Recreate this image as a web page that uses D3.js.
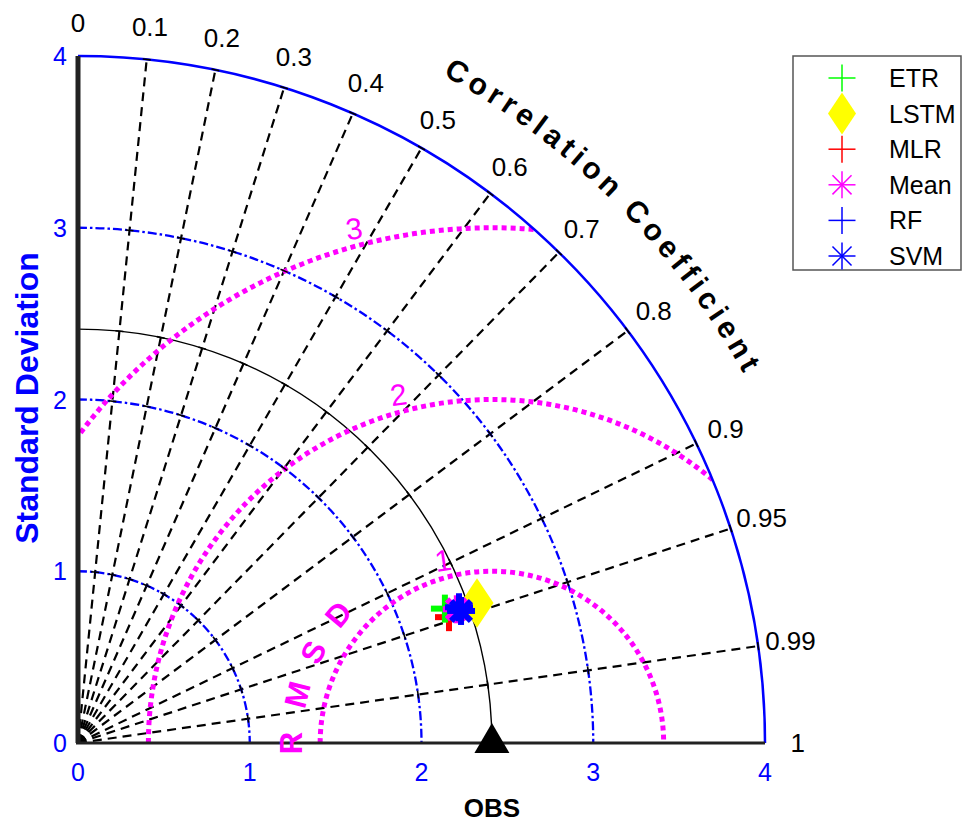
<!DOCTYPE html>
<html>
<head>
<meta charset="utf-8">
<script src="https://cdn.jsdelivr.net/npm/d3@7"></script>
<style>
  body { margin: 0; background: #fff; }
  svg { display: block; font-family: Arial, "Liberation Sans", sans-serif; }
</style>
</head>
<body>
<svg id="chart" width="963" height="822"></svg>
<script>
// model results (std dev, correlation)
const models = ['ETR', 'LSTM', 'MLR', 'Mean', 'RF', 'SVM']
const stdDev = [2.275, 2.462, 2.281, 2.339, 2.355, 2.359]
const corrCoef = [0.939, 0.9436, 0.947, 0.943, 0.942, 0.9454]
const colors = ['#00ff00', '#ffff00', '#ff0000', '#ff00ff', '#0000ff', '#0000ff']
const shapes = ['plus', 'diamond', 'plus', 'asterisk', 'plus', 'asterisk']
const drawOrder = ['LSTM', 'MLR', 'ETR', 'Mean', 'RF', 'SVM']

const obsStd = 2.41
const stdTicks = [0, 1, 2, 3, 4]
const stdArcs = [1, 2, 3]
const corrTicks = [0, 0.1, 0.2, 0.3, 0.4, 0.5, 0.6, 0.7, 0.8, 0.9, 0.95, 0.99, 1]
const corrLines = [0.1, 0.2, 0.3, 0.4, 0.5, 0.6, 0.7, 0.8, 0.9, 0.95, 0.99]
const rmsdLevels = [1, 2, 3]
const rmsdLetters = ['R', 'M', 'S', 'D']

const svg = d3.select('#chart')
const cx = 78, cy = 743
const maxStd = 4
const r = d3.scaleLinear().domain([0, maxStd]).range([0, 687])
const R = r(maxStd)

// polar (std, corr) -> screen
const px = (s, c) => cx + r(s) * c
const py = (s, c) => cy - r(s) * Math.sqrt(1 - c * c)

function quarterArc(rad) {
    const p = d3.path()
    p.arc(cx, cy, rad, -Math.PI / 2, 0)
    return p.toString()
}

// clip region = quarter disc
const clip = d3.path()
clip.moveTo(cx, cy)
clip.lineTo(cx, cy - R)
clip.arc(cx, cy, R, -Math.PI / 2, 0)
clip.closePath()
svg.append('clipPath').attr('id', 'quad').append('path').attr('d', clip.toString())

// correlation rays
svg.append('g').selectAll('line').data(corrLines).join('line')
    .attr('x1', cx).attr('y1', cy)
    .attr('x2', (c) => px(maxStd, c)).attr('y2', (c) => py(maxStd, c))
    .attr('stroke', '#000').attr('stroke-width', 2.2).attr('stroke-dasharray', '9,6')

// std arcs
svg.append('g').selectAll('path').data(stdArcs).join('path')
    .attr('d', (s) => quarterArc(r(s)))
    .attr('fill', 'none').attr('stroke', '#0000ff').attr('stroke-width', 2.3)
    .attr('stroke-dasharray', '9,3,2.5,3')

// obs arc
svg.append('path').attr('d', quarterArc(r(obsStd)))
    .attr('fill', 'none').attr('stroke', '#000').attr('stroke-width', 1.4)

// rmsd arcs around obs
const gR = svg.append('g').attr('clip-path', 'url(#quad)')
gR.selectAll('path').data(rmsdLevels).join('path')
    .attr('d', (k) => {
        const p = d3.path()
        p.arc(cx + r(obsStd), cy, r(k), -Math.PI, 0)
        return p.toString()
    })
    .attr('fill', 'none').attr('stroke', '#ff00ff').attr('stroke-width', 5)
    .attr('stroke-dasharray', '5,4')

// outer arc
svg.append('path').attr('d', quarterArc(R))
    .attr('fill', 'none').attr('stroke', '#0000ff').attr('stroke-width', 2.5)

// small tangent ticks where rays cross the arcs
const tickPts = []
for (const s of stdArcs.concat([obsStd, maxStd])) {
    for (const c of corrLines) tickPts.push({ s, c })
}
svg.append('g').selectAll('line').data(tickPts).join('line')
    .each(function (d) {
        const sn = Math.sqrt(1 - d.c * d.c)
        const x = px(d.s, d.c), y = py(d.s, d.c)
        const tx = sn, ty = d.c
        d3.select(this)
            .attr('x1', x - tx * 4).attr('y1', y - ty * 4)
            .attr('x2', x + tx * 4).attr('y2', y + ty * 4)
    })
    .attr('stroke', '#000').attr('stroke-width', 1.6)

// axes
svg.append('line').attr('x1', cx).attr('y1', cy).attr('x2', cx).attr('y2', cy - R)
    .attr('stroke', '#222').attr('stroke-width', 5)
svg.append('line').attr('x1', cx - 2).attr('y1', cy).attr('x2', cx + R).attr('y2', cy)
    .attr('stroke', '#222').attr('stroke-width', 3)

// tick labels
svg.append('g').selectAll('text').data(stdTicks).join('text')
    .attr('x', 67).attr('y', (s) => cy - r(s))
    .attr('text-anchor', 'end').attr('dominant-baseline', 'central')
    .attr('font-size', 25).attr('fill', '#0000ff').text((s) => s)
svg.append('g').selectAll('text').data(stdTicks).join('text')
    .attr('x', (s) => cx + r(s)).attr('y', 781)
    .attr('text-anchor', 'middle')
    .attr('font-size', 25).attr('fill', '#0000ff').text((s) => s)

// correlation labels
const labR = r(4.19)
svg.append('g').selectAll('text').data(corrTicks).join('text')
    .attr('x', (c) => cx + labR * c)
    .attr('y', (c) => cy - labR * Math.sqrt(1 - c * c))
    .attr('text-anchor', 'middle').attr('dominant-baseline', 'central')
    .attr('font-size', 26).attr('fill', '#000').text((c) => c)

// "Correlation Coefficient" letter by letter along an arc
const ccText = 'Correlation Coefficient'
const ccSize = 30, ccSpacing = 4.8, rb = 761, ccMid = 45.2
const measure = svg.append('text').attr('font-size', ccSize).attr('font-weight', 'bold')
    .attr('visibility', 'hidden')
const charW = (ch) => {
    if (ch === ' ') {
        measure.text('aa'); const w0 = measure.node().getComputedTextLength()
        measure.text('a\u00a0a'); return measure.node().getComputedTextLength() - w0
    }
    measure.text(ch); return measure.node().getComputedTextLength()
}
const widths = ccText.split('').map(charW)
measure.remove()
const total = d3.sum(widths) + ccSpacing * (widths.length - 1)
const startAng = ccMid + (total / 2 / rb) * 180 / Math.PI
let run = 0
const ccChars = ccText.split('').map((ch, i) => {
    const s = run + widths[i] / 2
    run += widths[i] + ccSpacing
    return { ch, ang: startAng - (s / rb) * 180 / Math.PI }
}).filter((d) => d.ch !== ' ')
svg.append('g').selectAll('text').data(ccChars).join('text')
    .attr('transform', (d) => {
        const a = d.ang * Math.PI / 180
        return `translate(${cx + rb * Math.cos(a)},${cy - rb * Math.sin(a)}) rotate(${90 - d.ang})`
    })
    .attr('text-anchor', 'middle').attr('font-size', ccSize).attr('font-weight', 'bold')
    .text((d) => d.ch)

// axis titles
svg.append('text').attr('transform', 'translate(38,398) rotate(-90)')
    .attr('text-anchor', 'middle').attr('font-size', 32).attr('font-weight', 'bold')
    .attr('fill', '#0000ff').text('Standard Deviation')
svg.append('text').attr('x', cx + r(obsStd)).attr('y', 817)
    .attr('text-anchor', 'middle').attr('font-size', 26).attr('font-weight', 'bold')
    .text('OBS')

// rmsd labels
const labAng = 105 * Math.PI / 180
svg.append('g').selectAll('text').data(rmsdLevels).join('text')
    .attr('transform', (k) => {
        const x = cx + r(obsStd) + r(k + 0.1) * Math.cos(labAng)
        const y = cy - r(k + 0.1) * Math.sin(labAng)
        return `translate(${x},${y}) rotate(-8)`
    })
    .attr('text-anchor', 'middle').attr('dominant-baseline', 'central')
    .attr('font-size', 30).attr('fill', '#ff00ff').text((k) => k)

const letterAng = [180, 166, 153, 140]
svg.append('g').selectAll('text').data(rmsdLetters).join('text')
    .attr('transform', (t, i) => {
        const a = letterAng[i] * Math.PI / 180
        const x = cx + r(obsStd) + r(1.165) * Math.cos(a)
        const y = cy - r(1.165) * Math.sin(a)
        return `translate(${x},${y}) rotate(${90 - letterAng[i]})`
    })
    .attr('text-anchor', 'middle').attr('dominant-baseline', 'central')
    .attr('font-size', 31).attr('font-weight', 'bold').attr('fill', '#ff00ff').text((t) => t)

// markers
function marker(g, shape, color, size, lw) {
    const h = size / 2
    if (shape === 'diamond') {
        g.append('path').attr('d', `M0,${-h * 1.5}L${h},0L0,${h * 1.5}L${-h},0Z`)
            .attr('fill', color).attr('stroke', 'none')
        return
    }
    let angles = [0, 90]
    if (shape === 'asterisk') angles = [0, 45, 90, 135]
    for (const a of angles) {
        const t = a * Math.PI / 180
        g.append('line')
            .attr('x1', -h * Math.cos(t)).attr('y1', -h * Math.sin(t))
            .attr('x2', h * Math.cos(t)).attr('y2', h * Math.sin(t))
            .attr('stroke', color).attr('stroke-width', lw)
    }
    if (shape === 'asterisk') g.append('circle').attr('r', lw * 0.8).attr('fill', color)
}

const gm = svg.append('g')
for (const name of drawOrder) {
    const i = models.indexOf(name)
    const g = gm.append('g')
        .attr('transform', `translate(${px(stdDev[i], corrCoef[i])},${py(stdDev[i], corrCoef[i])})`)
    if (shapes[i] === 'diamond') marker(g, 'diamond', colors[i], 33, 0)
    else marker(g, shapes[i], colors[i], 28, 6)
}

// obs triangle
const ox = cx + r(obsStd)
svg.append('path').attr('d', `M${ox - 17.5},${cy + 10}L${ox + 17.5},${cy + 10}L${ox},${cy - 20}Z`)
    .attr('fill', '#000')

// legend
const lg = svg.append('g')
lg.append('rect').attr('x', 793).attr('y', 56).attr('width', 168).attr('height', 214)
    .attr('fill', '#fff').attr('stroke', '#555').attr('stroke-width', 1.5)
models.forEach((name, i) => {
    const y = 78 + i * 35.6
    const g = lg.append('g').attr('transform', `translate(842,${y})`)
    if (shapes[i] === 'diamond') marker(g, 'diamond', colors[i], 28, 0)
    else marker(g, shapes[i], colors[i], 27, 1.5)
    lg.append('text').attr('x', 889).attr('y', y).attr('dominant-baseline', 'central')
        .attr('font-size', 25).text(name)
})
</script>
</body>
</html>
